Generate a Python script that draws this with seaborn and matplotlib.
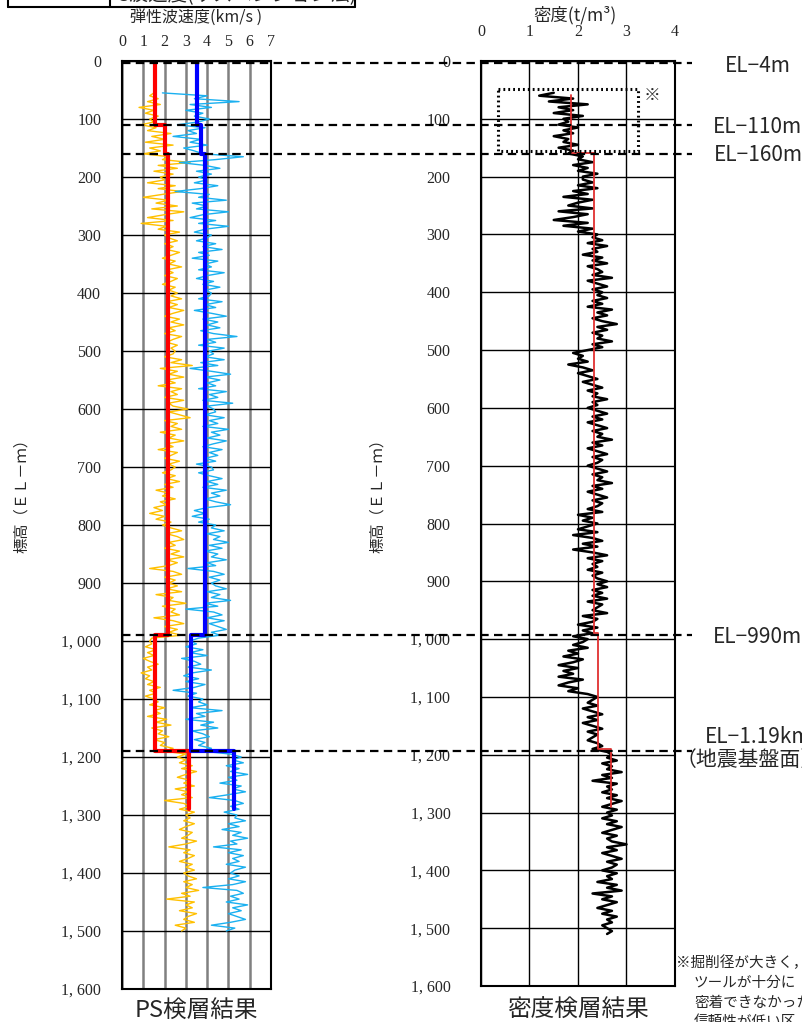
"""
PS logging / density logging profile (two panels, depth down).
"""

import matplotlib
matplotlib.use("Agg")
import matplotlib.pyplot as plt
import matplotlib.transforms as mtransforms
from matplotlib.lines import Line2D
from matplotlib.patches import Rectangle
import seaborn as sns
import numpy as np

sns.set_style("white")
plt.rcParams['font.family'] = ['Noto Sans CJK JP', 'DejaVu Sans']

# ---------------------------------------------------------------- data
# logged traces, one sample every 5 m starting at EL-55 m
vs_trace = [
    1.5, 1.3, 1.7, 1.2, 1.8, 0.8, 1.5, 1.1, 1.7, 1.3,
    1.5, 0.9, 1.6, 1.2, 2.3, 1.4, 2.0, 1.1, 2.4, 1.3, 1.8, 1.0, 2.2, 1.9, 3.2, 1.7, 2.6, 1.5, 2.4, 1.8,
    2.0, 1.2, 2.5, 1.7, 2.8, 1.9, 1.0, 2.2, 1.6, 2.6, 1.4, 2.9, 2.0, 1.2, 2.4, 0.9, 2.1, 1.7, 2.7, 2.0,
    2.2, 2.6, 2.0, 2.4, 2.1, 2.7, 2.3, 1.9, 2.5, 2.2, 2.8, 2.1, 2.4, 2.0, 2.6, 2.3, 1.9, 2.5, 2.2, 2.6,
    2.3, 2.8, 2.1, 2.6, 2.2, 2.9, 2.4, 2.0, 2.7, 2.3, 2.9, 2.2, 2.5, 2.0, 2.8, 2.4, 2.1, 2.6, 2.3, 2.5,
    2.4, 2.0, 2.8, 2.3, 3.3, 1.8, 2.6, 2.2, 2.9, 2.1, 2.5, 1.7, 2.8, 2.3, 2.6, 2.0, 2.9, 2.2, 2.4, 3.1,
    2.2, 2.7, 3.2, 2.0, 2.6, 2.3, 2.8, 1.8, 2.5, 2.2, 2.9, 2.1, 2.4, 1.7, 2.6, 2.3, 2.0, 2.7, 2.2, 2.5,
    2.3, 1.9, 2.5, 2.1, 2.7, 2.0, 2.4, 1.6, 2.2, 1.9, 2.5, 1.8, 2.1, 1.5, 1.9, 1.3, 2.0, 1.6, 2.3, 1.9,
    2.3, 2.8, 2.1, 2.6, 2.9, 2.2, 2.5, 2.0, 2.7, 2.3, 2.9, 2.1, 2.6, 2.2, 1.3, 2.4, 2.8, 2.0, 2.5, 2.2,
    2.6, 2.1, 2.8, 1.6, 2.4, 2.2, 3.0, 1.9, 2.5, 2.3, 2.7, 1.5, 2.4, 2.9, 2.0, 2.6, 2.2, 2.8, 1.4, 1.3,
    1.4, 1.1, 1.6, 1.2, 1.5, 1.0, 1.3, 1.7, 1.2, 1.4, 0.9, 1.3, 1.1, 1.5, 1.2, 1.8, 1.3, 1.6, 1.1, 1.5,
    1.7, 1.3, 2.0, 1.5, 1.8, 1.2, 2.1, 1.6, 2.3, 1.4, 1.9, 1.7, 2.2, 1.5, 2.0, 1.8, 2.4, 2.0, 3.0, 2.6,
    3.0, 2.7, 3.3, 2.8, 3.5, 3.0, 2.6, 3.2, 2.9, 3.4, 2.5, 3.1, 2.8, 3.3, 2.0, 2.9, 3.2, 2.7, 3.4, 3.0,
    3.2, 2.9, 3.4, 3.0, 2.7, 3.3, 3.1, 2.8, 3.5, 3.0, 2.2, 3.2, 2.9, 3.4, 3.1, 2.7, 3.3, 3.0, 3.4, 2.9,
    3.1, 3.5, 2.9, 3.3, 3.0, 3.6, 2.8, 3.2, 2.1, 3.4, 3.0, 3.3, 2.7, 3.5, 3.1, 2.9, 3.4, 2.5, 3.0, 2.8,
]

vp_trace = [
    1.9, 4.0, 3.4, 5.5, 3.2, 4.2, 3.0, 3.8, 3.4, 4.1,
    3.6, 2.6, 3.9, 3.1, 3.5, 2.4, 3.7, 3.2, 4.0, 2.9, 3.4, 3.8, 5.7, 4.4, 2.7, 3.9, 4.6, 3.5, 4.2, 3.6,
    4.0, 3.4, 4.5, 3.7, 2.5, 4.1, 3.6, 4.9, 3.3, 4.0, 3.5, 5.0, 3.8, 3.2, 4.4, 3.6, 5.0, 3.9, 3.4, 4.2,
    4.0, 3.5, 4.4, 3.8, 4.7, 3.6, 4.1, 3.3, 4.5, 3.9, 4.2, 3.6, 4.8, 4.0, 3.5, 4.3, 3.8, 4.6, 3.9, 4.2,
    4.1, 3.6, 4.7, 3.9, 4.4, 3.4, 4.2, 4.9, 3.8, 4.5, 4.0, 4.6, 3.7, 4.3, 5.4, 4.0, 4.4, 3.6, 4.8, 4.1,
    4.3, 3.9, 4.8, 3.7, 4.5, 3.2, 4.2, 5.1, 3.9, 4.6, 4.0, 4.4, 3.6, 4.9, 4.1, 4.5, 3.8, 5.2, 4.0, 4.3,
    4.4, 3.9, 4.8, 4.1, 4.5, 3.8, 5.0, 4.2, 4.6, 4.0, 4.9, 4.3, 3.8, 4.7, 4.1, 4.5, 3.9, 4.4, 3.5, 4.2,
    4.3, 3.6, 4.1, 4.7, 4.0, 4.5, 3.8, 4.9, 4.2, 4.6, 3.9, 4.4, 5.1, 4.0, 3.4, 3.9, 3.3, 4.1, 3.6, 4.4,
    4.2, 4.8, 4.0, 4.6, 4.3, 5.0, 4.1, 4.7, 3.9, 4.5, 4.2, 4.9, 4.0, 4.4, 3.1, 4.3, 4.8, 4.1, 4.6, 4.2,
    4.4, 4.9, 4.0, 4.6, 4.2, 5.1, 3.9, 4.5, 3.0, 4.3, 4.7, 4.0, 4.8, 4.1, 4.5, 4.9, 4.2, 4.6, 3.6, 3.2,
    3.5, 3.0, 3.8, 3.2, 4.0, 2.8, 3.4, 3.7, 3.1, 4.2, 3.3, 2.9, 3.6, 3.0, 3.9, 3.4, 2.4, 3.5, 3.1, 3.8,
    3.6, 4.0, 3.2, 4.7, 3.5, 3.9, 3.0, 4.3, 3.7, 4.5, 3.3, 3.8, 4.1, 3.4, 3.9, 3.6, 4.2, 3.8, 5.1, 5.6,
    5.2, 5.7, 4.9, 5.5, 5.1, 5.9, 5.0, 5.4, 4.6, 5.6, 5.2, 5.8, 5.0, 4.1, 5.3, 5.7, 5.1, 5.5, 4.8, 5.4,
    5.3, 5.8, 5.0, 5.5, 4.7, 5.6, 5.2, 5.9, 5.1, 5.4, 4.3, 5.6, 5.0, 5.7, 5.2, 5.5, 4.9, 5.8, 5.3, 5.1,
    5.5, 5.0, 5.8, 5.2, 3.8, 5.4, 5.7, 5.1, 5.5, 4.9, 5.9, 5.2, 5.6, 5.0, 5.4, 5.8, 5.1, 4.2, 5.3, 4.9,
]

density_trace = [
    1.5, 1.2, 1.9, 1.4, 2.2, 1.6, 1.9, 1.5, 2.1, 1.7,
    1.8, 1.6, 2.0, 1.7, 1.9, 1.5, 1.8, 1.7, 2.0, 1.6, 1.9, 1.8, 2.1, 2.0, 2.3, 1.9, 2.2, 2.0, 2.4, 2.1,
    2.1, 2.3, 2.0, 2.4, 1.9, 2.2, 1.7, 2.3, 2.0, 1.8, 2.3, 1.6, 2.2, 1.9, 1.5, 2.2, 1.7, 2.3, 2.0, 2.4,
    2.3, 2.5, 2.2, 2.6, 2.3, 2.4, 2.1, 2.5, 2.3, 2.6, 2.2, 2.4, 2.5, 2.3, 2.7, 2.2, 2.4, 2.6, 2.3, 2.5,
    2.4, 2.6, 2.3, 2.5, 2.2, 2.7, 2.4, 2.6, 2.3, 2.5, 2.8, 2.4, 2.6, 2.3, 2.5, 2.4, 2.7, 2.3, 2.5, 2.2,
    1.9, 2.1, 2.0, 2.2, 1.8, 2.1, 2.3, 2.0, 2.2, 2.4, 2.1, 2.3, 2.5, 2.2, 2.4, 2.3, 2.6, 2.3, 2.4, 2.2,
    2.4, 2.6, 2.3, 2.5, 2.2, 2.4, 2.6, 2.3, 2.5, 2.4, 2.7, 2.3, 2.5, 2.2, 2.4, 2.6, 2.3, 2.5, 2.4, 2.2,
    2.4, 2.6, 2.3, 2.5, 2.4, 2.7, 2.3, 2.5, 2.2, 2.4, 2.6, 2.3, 2.5, 2.4, 2.2, 2.5, 2.0, 2.3, 2.1, 2.4,
    2.2, 2.0, 2.4, 1.9, 2.3, 2.5, 2.1, 2.4, 1.9, 2.3, 2.6, 2.2, 2.5, 2.3, 2.4, 2.2, 2.5, 2.3, 2.4, 2.6,
    2.4, 2.6, 2.3, 2.5, 2.3, 2.6, 2.2, 2.5, 2.4, 2.3, 2.6, 2.1, 2.4, 2.3, 2.0, 2.4, 2.1, 2.3, 1.9, 2.2,
    2.1, 1.9, 2.2, 1.8, 2.0, 1.7, 2.1, 1.9, 1.6, 2.0, 1.7, 1.9, 1.6, 2.1, 1.8, 1.6, 2.0, 1.8, 2.2, 2.4,
    2.3, 2.2, 2.4, 2.1, 2.3, 2.5, 2.2, 2.4, 2.1, 2.3, 2.5, 2.2, 2.4, 2.3, 2.2, 2.4, 2.5, 2.3, 2.6, 2.7,
    2.6, 2.8, 2.5, 2.7, 2.6, 2.9, 2.5, 2.7, 2.3, 2.8, 2.6, 2.7, 2.5, 2.8, 2.6, 2.9, 2.7, 2.5, 2.8, 2.6,
    2.7, 2.5, 2.8, 2.6, 2.9, 2.7, 2.5, 2.8, 2.6, 2.7, 3.0, 2.6, 2.8, 2.5, 2.7, 2.9, 2.6, 2.8, 2.7, 2.5,
    2.8, 2.6, 2.7, 2.4, 2.8, 2.6, 2.9, 2.3, 2.7, 2.5, 2.8, 2.6, 2.4, 2.7, 2.5, 2.8, 2.6, 2.7, 2.5, 2.6,
    2.7, 2.6,
]

# layered models (top, bottom, value)
ps_layer_top = [0, 110, 160, 990, 1190]
ps_layer_bottom = [110, 160, 990, 1190, 1290]
vs_model = [1.55, 2.02, 2.14, 1.55, 3.16]
vp_model = [3.54, 3.69, 3.90, 3.24, 5.27]

den_layer_top = [58, 160, 990, 1190]
den_layer_bottom = [160, 990, 1190, 1290]
den_model = [1.86, 2.33, 2.41, 2.68]

boundary_depths = [4, 110, 160, 990, 1190]
boundary_labels = ['EL−4m', 'EL−110m', 'EL−160m', 'EL−990m', 'EL−1.19km']

ps_ticks = [0, 1, 2, 3, 4, 5, 6, 7]
den_ticks = [0, 1, 2, 3, 4]
depth_ticks = list(range(0, 1601, 100))

W, H = 803, 1022
# vertical position of each boundary label (depth units)
label_y = [9, 114, 162, 993, 1166]


def px_box(x0, y0, x1, y1):
    return [x0 / W, 1 - y1 / H, (x1 - x0) / W, (y1 - y0) / H]


def step_xy(tops, bottoms, values):
    xs, ys = [], []
    for t, b, v in zip(tops, bottoms, values):
        xs += [v, v]
        ys += [t, b]
    return xs, ys


def style_depth_axis(ax, xmax, xticks, ypad, xpad):
    ax.set_xlim(0, xmax)
    ax.set_ylim(1600, 0)
    ax.set_xticks(xticks)
    ax.set_yticks(depth_ticks)
    ax.set_yticklabels([f'{d:,}'.replace(',', ', ') for d in depth_ticks])
    ax.xaxis.tick_top()
    ax.tick_params(axis='y', length=0, pad=ypad, labelsize=11.5)
    ax.tick_params(axis='x', length=0, pad=xpad, labelsize=11.5)
    for lbl in ax.get_xticklabels() + ax.get_yticklabels():
        lbl.set_fontfamily('Liberation Serif')
    ax.set_xlabel('')
    ax.set_ylabel('')
    for sp in ax.spines.values():
        sp.set_color('black')
        sp.set_linewidth(1.5)
    ax.set_axisbelow(True)


fig = plt.figure(figsize=(W / 100, H / 100), dpi=100)

# ---------------------------------------------------------------- PS panel
ax1 = fig.add_axes(px_box(122, 61, 271, 989))
d_ps = 55 + 5 * np.arange(len(vs_trace))
sns.lineplot(x=vs_trace, y=d_ps, sort=False, estimator=None, color='#FFC000', lw=1.0, ax=ax1)
sns.lineplot(x=vp_trace, y=d_ps, sort=False, estimator=None, color='#1AB0F0', lw=1.0, ax=ax1)
sx, sy = step_xy(ps_layer_top, ps_layer_bottom, vs_model)
sns.lineplot(x=sx, y=sy, sort=False, estimator=None, color='#FF0000', lw=3, ax=ax1)
px, py = step_xy(ps_layer_top, ps_layer_bottom, vp_model)
sns.lineplot(x=px, y=py, sort=False, estimator=None, color='#0000FF', lw=3, ax=ax1)
style_depth_axis(ax1, 7, ps_ticks, ypad=15, xpad=8)
ax1.xaxis.grid(True, color='#808080', lw=1.8)
ax1.yaxis.grid(True, color='black', lw=1.0)

# ---------------------------------------------------------------- density panel
ax2 = fig.add_axes(px_box(481, 61, 675, 986))
d_den = 55 + 5 * np.arange(len(density_trace))
sns.lineplot(x=density_trace, y=d_den, sort=False, estimator=None, color='black', lw=1.8, ax=ax2)
mx, my = step_xy(den_layer_top, den_layer_bottom, den_model)
sns.lineplot(x=mx, y=my, sort=False, estimator=None, color='#E03030', lw=1.3, ax=ax2)
style_depth_axis(ax2, 4, den_ticks, ypad=22, xpad=15)
ax2.grid(True, color='black', lw=1.0)

# low-reliability zone
ax2.add_patch(Rectangle((0.35, 48), 2.89, 107, fill=False, ec='black', lw=2.2,
                        linestyle=(0, (0.6, 1.0)), zorder=5))
ax2.text(3.53, 60, '※', fontsize=12, ha='center', va='center')

# ---------------------------------------------------------------- boundaries
trans = mtransforms.blended_transform_factory(fig.transFigure, ax1.transData)
for d, ly, lab in zip(boundary_depths, label_y, boundary_labels):
    fig.add_artist(Line2D([122 / W, 692 / W], [d, d], transform=trans, color='black',
                          lw=1.6, linestyle=(0, (3.8, 2.4)), zorder=10))
    ax1.text(758 / W, ly, lab, transform=trans, fontsize=15, ha='center', va='center')
fig.text(676 / W, 1 - 760 / H, '（地震基盤面）', fontsize=15, ha='left', va='center')

# ---------------------------------------------------------------- titles
fig.text(196 / W, 1 - 18 / H, '弾性波速度(km/s )', fontsize=11.5, ha='center', va='center')
fig.text(575 / W, 1 - 15 / H, '密度(t/m³)', fontsize=12.5, ha='center', va='center')
fig.text(22 / W, 1 - 492 / H, '標高（ＥＬ－ｍ）', fontsize=11, rotation=90, ha='center', va='center')
fig.text(378 / W, 1 - 492 / H, '標高（ＥＬ－ｍ）', fontsize=11, rotation=90, ha='center', va='center')
fig.text(196 / W, 1 - 1010 / H, 'PS検層結果', fontsize=17, ha='center', va='center')
fig.text(578 / W, 1 - 1010 / H, '密度検層結果', fontsize=17, ha='center', va='center')

# footnote (runs off the page edge in the source)
fig.text(676 / W, 1 - 963 / H, '※掘削径が大きく，', fontsize=10.5, ha='left', va='center')
fig.text(694 / W, 1 - 983 / H, 'ツールが十分に', fontsize=10.5, ha='left', va='center')
fig.text(694 / W, 1 - 1003 / H, '密着できなかった', fontsize=10.5, ha='left', va='center')
fig.text(694 / W, 1 - 1022 / H, '信頼性が低い区', fontsize=10.5, ha='left', va='center')

# legend box cut at the top of the page
for xs, ys in [([8, 355], [7, 7]), ([8, 8], [0, 7]), ([110, 110], [0, 7]), ([355, 355], [0, 7])]:
    fig.add_artist(Line2D([x / W for x in xs], [1 - y / H for y in ys],
                          transform=fig.transFigure, color='black', lw=1.5))
fig.text(117 / W, 1 + 4 / H, 'S波速度(サスペンション法)', fontsize=14, ha='left', va='center')

plt.savefig('out.png', dpi=100)
